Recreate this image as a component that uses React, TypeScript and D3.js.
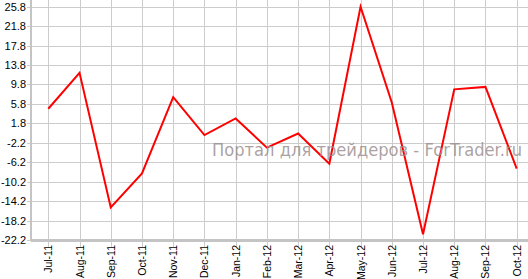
import React from "react";
import * as d3 from "d3";

const months = ["Jul-11","Aug-11","Sep-11","Oct-11","Nov-11","Dec-11","Jan-12","Feb-12","Mar-12","Apr-12","May-12","Jun-12","Jul-12","Aug-12","Sep-12","Oct-12"];
const values = [4.8, 12.2, -15.5, -8.5, 7.2, -0.6, 2.8, -3.2, -0.3, -6.5, 25.8, 6.1, -21.0, 8.8, 9.3, -7.5];
const yTicks = [25.8, 21.8, 17.8, 13.8, 9.8, 5.8, 1.8, -2.2, -6.2, -10.2, -14.2, -18.2, -22.2];
const watermark = "Портал для трейдеров - ForTrader.ru";

const W = 528, H = 279;
const left = 31, right = 528, top = 0, bottom = 240;

export default function App() {
  const x = d3.scalePoint<string>().domain(months).range([48.3, 516.7]);
  const y = d3.scaleLinear().domain([-22.2, 25.8]).range([240, 6.7]);
  const line = d3.line<number>().x((_, i) => x(months[i]) as number).y(d => y(d));
  const font = "Tahoma, 'Liberation Sans', sans-serif";
  return (
    <svg width={W} height={H} style={{ position: "absolute", left: 0, top: 0, background: "#fff" }}>
      {yTicks.map(t => (
        <g key={t}>
          <line x1={27} x2={right} y1={Math.round(y(t)) + 0.5} y2={Math.round(y(t)) + 0.5} stroke="#cccccc" strokeWidth={1} />
          <text x={26} y={y(t)} dy="0.36em" textAnchor="end" fontSize={11} fontFamily={font} fill="#000">{t.toFixed(1)}</text>
        </g>
      ))}
      {months.map(m => {
        const xv = Math.round(x(m) as number) + 0.5;
        return (
          <g key={m}>
            <line x1={xv} x2={xv} y1={top} y2={bottom + 7} stroke="#cccccc" strokeWidth={1} />
            <text transform={`translate(${(x(m) as number) + 4},${245}) rotate(-90)`} textAnchor="end" fontSize={10.5} fontFamily={font} fill="#000">{m}</text>
          </g>
        );
      })}
      <line x1={left} x2={left} y1={top} y2={bottom + 1} stroke="#c4c4c4" strokeWidth={2} />
      <line x1={left} x2={right} y1={bottom + 0.5} y2={bottom + 0.5} stroke="#c4c4c4" strokeWidth={3} />
      <path d={line(values) as string} fill="none" stroke="#ff0000" strokeWidth={2} strokeLinejoin="miter" />
      <text x={212} y={156} fontSize={17} fontFamily="'DejaVu Sans', Verdana, sans-serif" fill="#9c9090" fillOpacity={0.85} textLength={310} lengthAdjust="spacingAndGlyphs">{watermark}</text>
    </svg>
  );
}
